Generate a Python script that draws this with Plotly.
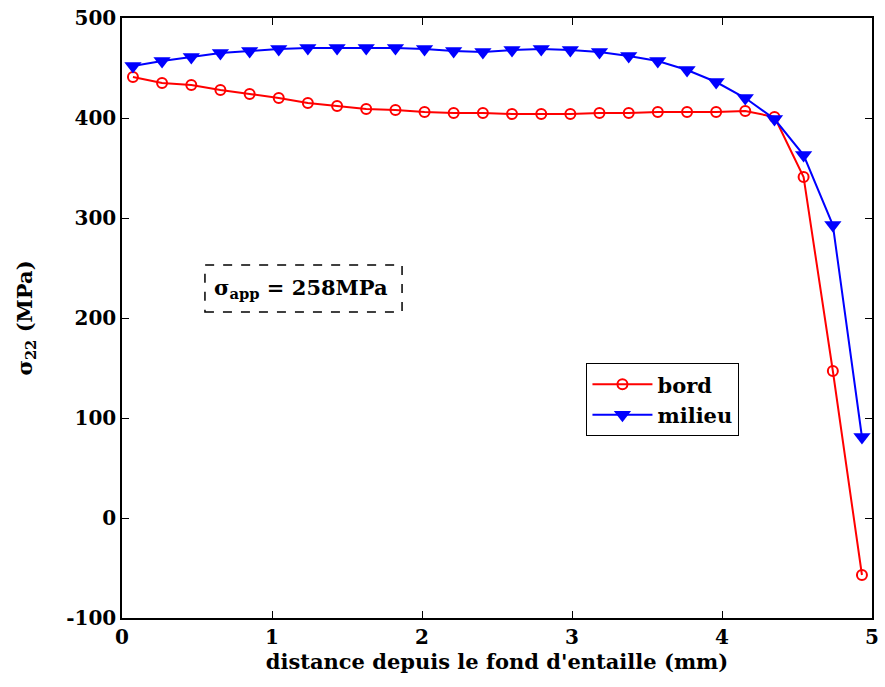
import plotly.graph_objects as go

n_points = 26
x0 = 0.073
dx = 0.1944
distance = [round(x0 + i * dx, 3) for i in range(n_points)]

bord = [441, 435, 433, 428, 424, 420, 415, 412, 409, 408,
        406, 405, 405, 404, 404, 404, 405, 405, 406, 406,
        406, 407, 401, 341, 147, -57]
milieu = [452, 457, 461, 465, 467, 469, 470, 470, 470, 470,
          469, 467, 466, 468, 469, 468, 466, 462, 457, 448,
          436, 420, 399, 363, 293, 81]

y_tick_vals = [-100, 0, 100, 200, 300, 400, 500]
y_tick_text = ["-100", "0", "100", "200", "300", "400", "500"]
x_tick_vals = [0, 1, 2, 3, 4, 5]
x_tick_text = ["0", "1", "2", "3", "4", "5"]

FONT = "DejaVu Serif"

fig = go.Figure()
fig.add_trace(go.Scatter(
    x=distance, y=bord, name="bord", mode="lines+markers",
    line=dict(color="#ff0000", width=2),
    marker=dict(symbol="circle-open", size=10, color="#ff0000", line=dict(width=2, color="#ff0000")),
))
fig.add_trace(go.Scatter(
    x=distance, y=milieu, name="milieu", mode="lines+markers",
    line=dict(color="#0000ff", width=2),
    marker=dict(symbol="triangle-down", size=15, color="#0000ff"),
))

axis_common = dict(
    showgrid=False, zeroline=False, showline=True, linecolor="black", linewidth=1.5,
    mirror="ticks", ticks="inside", ticklen=7, tickcolor="black", automargin=False,
    tickfont=dict(family=FONT, size=20, color="black", weight="bold"),
)

fig.update_layout(
    width=885, height=687,
    margin=dict(l=122, r=13, t=18, b=69),
    paper_bgcolor="white", plot_bgcolor="white",
    showlegend=True,
    legend=dict(
        x=0.619, y=0.425, xanchor="left", yanchor="top",
        bordercolor="black", borderwidth=1.2, bgcolor="white",
        font=dict(family=FONT, size=21, color="black", weight="bold"),
        itemwidth=60, tracegroupgap=0, entrywidth=160,
    ),
    xaxis=dict(range=[0, 5], tickvals=x_tick_vals, ticktext=x_tick_text,
               title=dict(text="distance depuis le fond d'entaille (mm)",
                          font=dict(family=FONT, size=21, color="black", weight="bold"),
                          standoff=4),
               **axis_common),
    yaxis=dict(range=[-100, 500], tickvals=y_tick_vals, ticktext=y_tick_text,
               title=dict(text="σ<sub>22</sub> (MPa)",
                          font=dict(family=FONT, size=21, color="black", weight="bold"),
                          standoff=28),
               **axis_common),
)

fig.add_shape(type="rect", xref="x", yref="y", x0=0.553, x1=1.867, y0=206, y1=253,
              line=dict(color="black", width=1.5, dash="dash"), fillcolor="white", layer="above")
fig.add_annotation(xref="x", yref="y", x=1.19, y=229.5, showarrow=False,
                   text="σ<sub>app</sub> = 258MPa",
                   font=dict(family=FONT, size=21, color="black", weight="bold"))

fig.write_html("out.html",
               config={"displayModeBar": False},
               post_script="document.body.style.margin='0';document.body.style.padding='0';")
